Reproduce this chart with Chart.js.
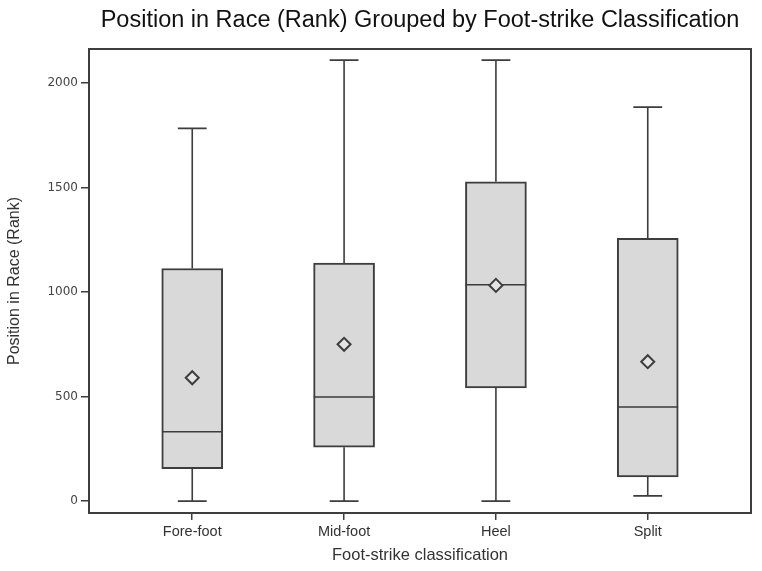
<!DOCTYPE html>
<html>
<head>
<meta charset="utf-8">
<script src="https://cdn.jsdelivr.net/npm/chart.js@4"></script>
<style>
  body { margin: 0; background: #fff; }
  #wrap { width: 762px; height: 571px; }
</style>
</head>
<body>
<div id="wrap"><canvas id="myChart" width="762" height="571"></canvas></div>
<script>
const categories = ['Fore-foot', 'Mid-foot', 'Heel', 'Split']
const whiskerLow = [0, 0, 0, 25]
const q1 = [155, 258, 542, 116]
const median = [332, 498, 1035, 450]
const q3 = [1113, 1139, 1528, 1257]
const whiskerHigh = [1783, 2110, 2110, 1885]
const mean = [590, 750, 1032, 667]
const yTicks = [0, 500, 1000, 1500, 2000]

const ink = '#3d3d3d'
const capHalf = 0.095
const boxHalf = 0.2

// whiskers, caps and medians as line segments split by gaps
const segments = []
categories.forEach((c, i) => {
    const x = i + 1
    segments.push({x, y: q1[i]}, {x, y: whiskerLow[i]}, {x, y: null})
    segments.push({x: x - capHalf, y: whiskerLow[i]}, {x: x + capHalf, y: whiskerLow[i]}, {x, y: null})
    segments.push({x, y: q3[i]}, {x, y: whiskerHigh[i]}, {x, y: null})
    segments.push({x: x - capHalf, y: whiskerHigh[i]}, {x: x + capHalf, y: whiskerHigh[i]}, {x, y: null})
    segments.push({x: x - boxHalf, y: median[i]}, {x: x + boxHalf, y: median[i]}, {x, y: null})
})

const frame = {
    id: 'frame',
    afterDraw(chart) {
        const {ctx, chartArea: a} = chart
        ctx.save()
        ctx.strokeStyle = ink
        ctx.lineWidth = 2
        ctx.strokeRect(a.left, a.top, a.right - a.left, a.bottom - a.top)
        ctx.restore()
    }
}

new Chart(document.getElementById('myChart'), {
    type: 'bar',
    data: {
        datasets: [
            {
                type: 'line',
                data: mean.map((v, i) => ({x: i + 1, y: v})),
                showLine: false,
                pointStyle: 'rectRot',
                pointRadius: 6.5,
                pointBorderWidth: 2,
                pointBackgroundColor: '#e4e4e4',
                pointBorderColor: ink,
                order: 0
            },
            {
                type: 'line',
                data: segments,
                borderColor: ink,
                borderWidth: 1.6,
                pointRadius: 0,
                spanGaps: false,
                order: 1
            },
            {
                data: categories.map((c, i) => ({x: i + 1, y: [q1[i], q3[i]]})),
                backgroundColor: '#d9d9d9',
                borderColor: ink,
                borderWidth: 2,
                borderSkipped: false,
                barThickness: 61,
                order: 2
            }
        ]
    },
    options: {
        responsive: false,
        animation: false,
        layout: { padding: { left: 0, right: 11, top: 0, bottom: 0 } },
        plugins: {
            legend: { display: false },
            tooltip: { enabled: false },
            title: {
                display: true,
                fullSize: false,
                text: 'Position in Race (Rank) Grouped by Foot-strike Classification',
                color: '#111',
                font: { family: 'Liberation Sans', size: 23.5, weight: 'normal', lineHeight: 1.2 },
                padding: { top: 6, bottom: 14.8 }
            }
        },
        scales: {
            x: {
                type: 'linear',
                offset: false,
                min: 0.32,
                max: 4.68,
                afterBuildTicks: s => { s.ticks = categories.map((c, i) => ({value: i + 1})) },
                afterFit: s => { s.height = 58 },
                ticks: {
                    callback: v => categories[v - 1],
                    color: '#333',
                    font: { family: 'Liberation Sans', size: 14.5 },
                    padding: 3,
                    maxRotation: 0
                },
                grid: { offset: false, drawOnChartArea: false, drawTicks: true, tickLength: 7, color: ink, lineWidth: 1.5 },
                border: { display: false },
                title: {
                    display: true,
                    text: 'Foot-strike classification',
                    color: '#333',
                    font: { family: 'Liberation Sans', size: 16.5 },
                    padding: { top: 0, bottom: 6 }
                }
            },
            y: {
                min: -57,
                max: 2163,
                afterBuildTicks: s => { s.ticks = yTicks.map(v => ({value: v})) },
                afterFit: s => { s.width = 89 },
                ticks: {
                    callback: v => String(v),
                    color: '#444',
                    font: { family: 'DejaVu Sans', size: 12 },
                    padding: 3
                },
                grid: { drawOnChartArea: false, drawTicks: true, tickLength: 8, color: ink, lineWidth: 1.5 },
                border: { display: false },
                title: {
                    display: true,
                    text: 'Position in Race (Rank)',
                    color: '#333',
                    font: { family: 'Liberation Sans', size: 16 },
                    padding: { top: 5, bottom: 0 }
                }
            }
        }
    },
    plugins: [frame]
})
</script>
</body>
</html>
